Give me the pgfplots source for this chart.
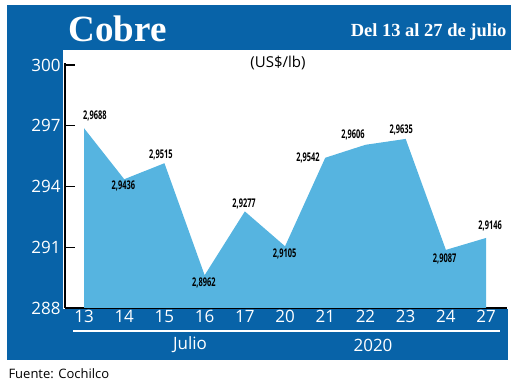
\documentclass[border=0pt]{standalone}
\usepackage{pgfplots}
\pgfplotsset{compat=1.18}
\usepackage{fontspec}
\setmainfont{Open Sans}
\newfontfamily\titlefont{Liberation Serif}
\newfontfamily\condfont[FakeStretch=0.62]{Open Sans}
\definecolor{darkblue}{RGB}{8,99,168}
\definecolor{lightblue}{RGB}{86,180,224}
\begin{document}
\begin{tikzpicture}[x=1pt,y=1pt]
\useasboundingbox (0,0) rectangle (520,387);
% backgrounds (y_tikz = 387 - y_px)
\fill[darkblue] (7,382) rectangle (511,337);
\fill[darkblue] (7,337) rectangle (63,27);
\fill[darkblue] (7,78) rectangle (508,27);
\draw[white,line width=1.2pt] (73,56) -- (500,56);
\node[anchor=west,text=white,font=\titlefont\bfseries\fontsize{37}{37}\selectfont] at (65,358) {Cobre};
\node[anchor=east,text=white,font=\titlefont\bfseries\fontsize{18.5}{18.5}\selectfont] at (510,355) {Del 13 al 27 de julio};
\node[font=\fontsize{15}{15}\selectfont] at (278,324) {(US\$/lb)};
\node[text=white,font=\fontsize{17}{17}\selectfont] at (190,42) {Julio};
\node[text=white,font=\fontsize{17}{17}\selectfont] at (373,42) {2020};
\node[anchor=west,font=\fontsize{13}{13}\selectfont] at (5,13) {Fuente: Cochilco};
\begin{axis}[
  at={(65pt,79pt)}, anchor=south west,
  scale only axis, width=442pt, height=245pt,
  xmin=-0.473, xmax=10.52, ymin=288, ymax=300.1,
  axis x line*=bottom, axis y line*=left,
  axis line style={black,line width=1.4pt},
  xtick={0,...,10},
  xticklabels={13,14,15,16,17,20,21,22,23,24,27},
  ytick={288,291,294,297,300},
  xtick style={draw=none},
  ytick style={black,line width=1.4pt},
  major tick length=10pt,
  tick align=inside,
  /pgf/number format/assume math mode=true,
  ticklabel style={text=white,font=\fontsize{17}{17}\selectfont},
  xticklabel style={yshift=1pt},
  yticklabel style={xshift=-1pt},
  clip=false,
]
\addplot[fill=lightblue,draw=none] coordinates {
 (0,296.88) (1,294.36) (2,295.15) (3,289.62) (4,292.77) (5,291.05)
 (6,295.42) (7,296.06) (8,296.35) (9,290.87) (10,291.46)
} \closedcycle;
\begin{scope}[every node/.style={font=\condfont\bfseries\fontsize{12}{12}\selectfont}]
\node at (axis cs:0.27,297.47) {2,9688};
\node at (axis cs:0.98,294.02) {2,9436};
\node at (axis cs:1.91,295.54) {2,9515};
\node at (axis cs:2.98,289.24) {2,8962};
\node at (axis cs:3.98,293.14) {2,9277};
\node at (axis cs:4.99,290.69) {2,9105};
\node at (axis cs:5.57,295.42) {2,9542};
\node at (axis cs:6.69,296.54) {2,9606};
\node at (axis cs:7.89,296.79) {2,9635};
\node at (axis cs:8.97,290.44) {2,9087};
\node at (axis cs:10.10,292.07) {2,9146};
\end{scope}
\end{axis}
\end{tikzpicture}
\end{document}
